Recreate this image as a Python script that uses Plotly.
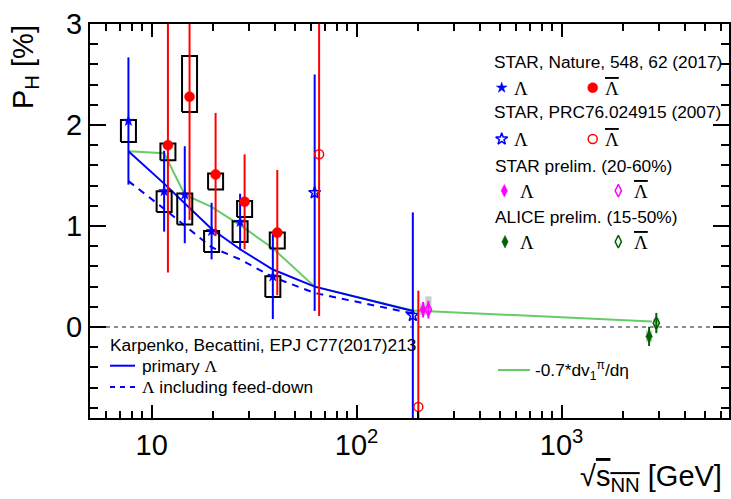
import math
import plotly.graph_objects as go

# ---------------- data ----------------
# STAR, Nature 548, 62 (2017): Lambda
star_L_x = [7.7, 11.5, 14.5, 19.6, 27.0, 39.0]
star_L_y = [2.04, 1.345, 1.31, 0.95, 1.04, 0.50]
star_L_stat = [0.63, 0.40, 0.48, 0.28, 0.28, 0.42]
star_L_sys_lo = [1.833, 1.140, 1.015, 0.743, 0.842, 0.297]
star_L_sys_hi = [2.049, 1.345, 1.322, 0.951, 1.048, 0.502]
# STAR, Nature 548, 62 (2017): anti-Lambda
star_Lb_x = [12.0, 15.3, 20.5, 28.4, 41.0]
star_Lb_y = [1.80, 2.28, 1.51, 1.24, 0.935]
star_Lb_stat = [1.26, 1.22, 0.61, 0.47, 0.62]
star_Lb_sys_lo = [1.652, 2.128, 1.362, 1.090, 0.777]
star_Lb_sys_hi = [1.818, 2.683, 1.520, 1.249, 0.936]
# STAR, PRC76.024915 (2007)
prc_L_x = [62.4, 188.0]
prc_L_y = [1.33, 0.115]
prc_L_stat = [1.17, 1.02]
prc_Lb_x = [65.6, 200.0]
prc_Lb_y = [1.71, -0.79]
prc_Lb_stat = [1.60, 1.15]
# STAR prelim. (20-60%)
prel_L_x = [211.0]
prel_L_y = [0.172]
prel_L_stat = [0.077]
prel_L_sys_lo = [0.116]
prel_L_sys_hi = [0.235]
prel_Lb_x = [224.0]
prel_Lb_y = [0.172]
prel_Lb_stat = [0.087]
prel_Lb_sys_lo = [0.165]
prel_Lb_sys_hi = [0.304]
# ALICE prelim. (15-50%)
alice_L_x = [2673.0]
alice_L_y = [-0.092]
alice_L_stat = [0.095]
alice_L_sys_lo = [-0.149]
alice_L_sys_hi = [-0.033]
alice_Lb_x = [2899.0]
alice_Lb_y = [0.040]
alice_Lb_stat = [0.10]
alice_Lb_sys_lo = [-0.010]
alice_Lb_sys_hi = [0.089]
# -0.7 * dv1(pi)/deta
dv1_x = [7.7, 11.5, 14.5, 19.6, 27.0, 39.0, 62.4, 188.0, 2760.0]
dv1_y = [1.74, 1.72, 1.31, 1.19, 1.01, 0.78, 0.40, 0.165, 0.055]
# Karpenko, Becattini model
model_x = [7.7, 11.5, 19.6, 27.0, 39.0, 62.4, 188.0]
model_primary = [1.74, 1.42, 0.97, 0.77, 0.57, 0.40, 0.16]
model_feeddown = [1.445, 1.17, 0.79, 0.67, 0.495, 0.337, 0.135]

x_range = [5.0, 6560.0]
y_range = [-0.9, 3.0]
x_major = [10, 100, 1000]
x_major_text = ["10", "10<sup>2</sup>", "10<sup>3</sup>"]

# ---------------- styles / layout geometry ----------------
BLUE = "#0000ff"
RED = "#ff0000"
MAG = "#ff00ff"
DKGREEN = "#006400"
LTGREEN = "#66cc66"
GRAY = "#cccccc"
FONT = "Liberation Sans, Arial, sans-serif"
SERIF = "Liberation Serif, Times New Roman, serif"
W, H = 731, 499
ML, MR, MT, MB = 90, 2, 24, 81
PW, PH = W - ML - MR, H - MT - MB
LX0, LX1 = math.log10(x_range[0]), math.log10(x_range[1])


def px2paper(px, py):
    return (px - ML) / PW, (H - MB - py) / PH


def px2data(px, py):
    fx, fy = px2paper(px, py)
    return 10 ** (LX0 + fx * (LX1 - LX0)), y_range[0] + fy * (y_range[1] - y_range[0])


LAM = "\u039b"
LBAR = "<span style='text-decoration:overline'>\u039b</span>"

fig = go.Figure()

# model / dv1 lines
fig.add_trace(go.Scatter(x=dv1_x, y=dv1_y, mode="lines",
                         line=dict(color=LTGREEN, width=2)))
fig.add_trace(go.Scatter(x=model_x, y=model_primary, mode="lines",
                         line=dict(color=BLUE, width=2)))
fig.add_trace(go.Scatter(x=model_x, y=model_feeddown, mode="lines",
                         line=dict(color=BLUE, width=2, dash="7px,6px")))


def box_path(xs, lo, hi, f):
    px, py = [], []
    for x, a, b in zip(xs, lo, hi):
        px += [x / f, x * f, x * f, x / f, x / f, None]
        py += [a, a, b, b, a, None]
    return px, py


# grey systematic boxes (preliminary)
for xs, lo, hi in [(prel_L_x, prel_L_sys_lo, prel_L_sys_hi),
                   (prel_Lb_x, prel_Lb_sys_lo, prel_Lb_sys_hi),
                   (alice_L_x, alice_L_sys_lo, alice_L_sys_hi),
                   (alice_Lb_x, alice_Lb_sys_lo, alice_Lb_sys_hi)]:
    for x, a, b in zip(xs, lo, hi):
        bx, by = box_path([x], [a], [b], 1.035)
        fig.add_trace(go.Scatter(x=bx[:-1], y=by[:-1], mode="lines", fill="toself",
                                 fillcolor=GRAY, line=dict(width=0, color=GRAY)))

# black systematic boxes
for xs, lo, hi in [(star_L_x, star_L_sys_lo, star_L_sys_hi),
                   (star_Lb_x, star_Lb_sys_lo, star_Lb_sys_hi)]:
    bx, by = box_path(xs, lo, hi, 1.088)
    fig.add_trace(go.Scatter(x=bx, y=by, mode="lines",
                             line=dict(color="black", width=2)))


def marker_style(color, symbol, size):
    if symbol.endswith("-open"):
        return dict(symbol=symbol, size=size, color=color, line=dict(color=color, width=1.5))
    return dict(symbol=symbol, size=size, color=color, line=dict(color=color, width=0.5))


def points(xs, ys, err, color, symbol, size):
    return go.Scatter(
        x=xs, y=ys, mode="markers",
        error_y=dict(type="data", array=err, visible=True, color=color,
                     thickness=2, width=0),
        marker=marker_style(color, symbol, size),
    )


fig.add_trace(points(star_L_x, star_L_y, star_L_stat, BLUE, "star", 8))
fig.add_trace(points(star_Lb_x, star_Lb_y, star_Lb_stat, RED, "circle", 10))
fig.add_trace(points(prc_L_x, prc_L_y, prc_L_stat, BLUE, "star-open", 9))
fig.add_trace(points(prc_Lb_x, prc_Lb_y, prc_Lb_stat, RED, "circle-open", 9))
fig.add_trace(points(prel_L_x, prel_L_y, prel_L_stat, MAG, "diamond-tall", 9))
fig.add_trace(points(prel_Lb_x, prel_Lb_y, prel_Lb_stat, MAG, "diamond-tall-open", 9))
fig.add_trace(points(alice_L_x, alice_L_y, alice_L_stat, DKGREEN, "diamond-tall", 9))
fig.add_trace(points(alice_Lb_x, alice_Lb_y, alice_Lb_stat, DKGREEN, "diamond-tall-open", 9))

# ---------------- legend symbols (pixel layout positions) ----------------
leg_markers = [
    (501.7, 87.7, "star", BLUE, 8),
    (592.7, 87.7, "circle", RED, 10),
    (501.7, 139.0, "star-open", BLUE, 9),
    (592.7, 139.0, "circle-open", RED, 9),
    (504.3, 190.7, "diamond-tall", MAG, 9),
    (618.3, 190.7, "diamond-tall-open", MAG, 9),
    (505.0, 241.7, "diamond-tall", DKGREEN, 9),
    (618.3, 241.7, "diamond-tall-open", DKGREEN, 9),
]
for lx, ly, sym, c, s in leg_markers:
    dx, dy = px2data(lx, ly)
    fig.add_trace(go.Scatter(x=[dx], y=[dy], mode="markers", cliponaxis=False,
                             marker=marker_style(c, sym, s)))
leg_lines = [
    (110, 135, 365.7, BLUE, "solid"),
    (110, 135, 387.0, BLUE, "5px,5px"),
    (498, 530, 370.0, LTGREEN, "solid"),
]
for x0, x1, ly, c, d in leg_lines:
    a = px2data(x0, ly)
    b = px2data(x1, ly)
    fig.add_trace(go.Scatter(x=[a[0], b[0]], y=[a[1], b[1]], mode="lines",
                             cliponaxis=False, line=dict(color=c, width=2, dash=d)))

ann = []


def txt(x, y, s, size=17, xanchor="left", family=FONT, **kw):
    fx, fy = px2paper(x, y)
    ann.append(dict(x=fx, y=fy, xref="paper", yref="paper", text=s, showarrow=False,
                    xanchor=xanchor, yanchor="middle",
                    font=dict(family=family, size=size, color="black"), **kw))


txt(491.7, 61.7, "STAR, Nature, 548, 62 (2017)", 17.3)
txt(512.0, 88.5, LAM, 19, family=SERIF)
txt(603.0, 88.5, LBAR, 19, family=SERIF)
txt(491.7, 111.7, "STAR, PRC76.024915 (2007)", 17.3)
txt(512.0, 139.8, LAM, 19, family=SERIF)
txt(603.0, 139.8, LBAR, 19, family=SERIF)
txt(492.7, 166.0, "STAR prelim. (20-60%)", 17.3)
txt(518.0, 191.5, LAM, 19, family=SERIF)
txt(631.5, 191.5, LBAR, 19, family=SERIF)
txt(492.7, 216.7, "ALICE prelim. (15-50%)", 17.3)
txt(518.0, 242.5, LAM, 19, family=SERIF)
txt(631.5, 242.5, LBAR, 19, family=SERIF)

txt(108.0, 345.0, "Karpenko, Becattini, EPJ C77(2017)213", 17.3)
txt(140.0, 365.7, "primary <span style='font-family:Liberation Serif'>\u039b</span>", 17.3)
txt(140.0, 387.0, "<span style='font-family:Liberation Serif'>\u039b</span> including feed-down", 17.3)
txt(533.3, 370.0, "-0.7*dv<sub>1</sub><sup>\u03c0</sup>/d\u03b7", 17.3)

# axis titles
txt(25.0, 67.0, "P<sub>H</sub> [%]", 29, xanchor="center", textangle=-90)
txt(724.0, 478.0, "\u221a<span style='text-decoration:overline'>s<sub>NN</sub></span> [GeV]",
    29, xanchor="right")

minor_x = [m * 10 ** e for e in range(0, 4) for m in range(2, 10)
           if x_range[0] < m * 10 ** e < x_range[1]]

fig.update_layout(
    width=W, height=H,
    margin=dict(l=ML, r=MR, t=MT, b=MB),
    paper_bgcolor="white", plot_bgcolor="white",
    showlegend=False,
    font=dict(family=FONT, size=17, color="black"),
    xaxis=dict(
        type="log", range=[LX0, LX1], automargin=False,
        tickmode="array", tickvals=x_major, ticktext=x_major_text,
        ticks="inside", ticklen=13, tickwidth=1.5, tickcolor="black",
        showline=True, linewidth=2, linecolor="black", mirror="allticks",
        showgrid=False, zeroline=False,
        tickfont=dict(family=FONT, size=29),
        ticklabelstandoff=0,
        minor=dict(ticks="inside", ticklen=7, tickwidth=1.5, tickcolor="black",
                   tickmode="array", tickvals=minor_x, showgrid=False),
    ),
    yaxis=dict(
        range=y_range, tick0=0, dtick=1, automargin=False,
        ticks="inside", ticklen=16, tickwidth=1.5, tickcolor="black",
        showline=True, linewidth=2, linecolor="black", mirror="allticks",
        showgrid=False, zeroline=False,
        tickfont=dict(family=FONT, size=29),
        ticklabelstandoff=0,
        minor=dict(ticks="inside", ticklen=8, tickwidth=1.5, tickcolor="black",
                   dtick=0.2, showgrid=False),
    ),
    annotations=ann,
    shapes=[dict(type="line", xref="paper", x0=0, x1=1, yref="y", y0=0, y1=0,
                 line=dict(color="#666666", width=1.5, dash="4px,4px"), layer="below")],
)

fig.write_html("out.html", config={"displayModeBar": False},
               post_script="document.body.style.margin='0';document.body.style.overflow='hidden';")
